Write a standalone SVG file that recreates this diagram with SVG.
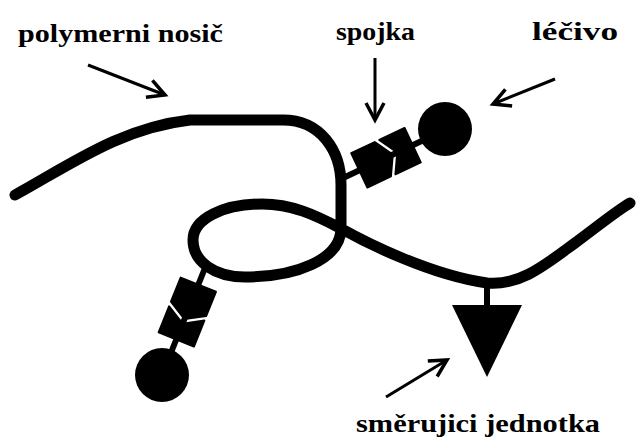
<svg xmlns="http://www.w3.org/2000/svg" width="636" height="441" viewBox="0 0 636 441">
  <style>
    .lbl { font-family: "Liberation Serif", "DejaVu Serif", serif; font-weight: bold; font-size: 26px; fill: #000; }
    .chain { fill: none; stroke: #000; stroke-width: 11; stroke-linecap: round; stroke-linejoin: round; }
    .arrow { fill: none; stroke: #000; stroke-width: 3; marker-end: url(#ah); }
    .stem { stroke: #000; stroke-width: 6; }
    .piece { fill: #000; stroke: #000; stroke-width: 2; stroke-linejoin: round; }
  </style>
  <defs>
    <marker id="ah" markerUnits="userSpaceOnUse" viewBox="-22 -14 26 28" markerWidth="26" markerHeight="28" refX="0" refY="0" orient="auto">
      <path d="M-17,-9 L0,0 L-17,9" fill="none" stroke="#000" stroke-width="3.5" stroke-linejoin="miter"/>
    </marker>
    <g id="linker">
      <polygon class="piece" points="18,-19 44,-19 55,0 44,19 18,19"/>
      <polygon class="piece" points="49,-19 77,-19 77,19 49,19 60,0"/>
    </g>
  </defs>
  <rect width="636" height="441" fill="#fff"/>

  <g id="connectors">
    <line class="arrow" x1="88" y1="65" x2="165" y2="95"/>
    <line class="arrow" x1="375" y1="58" x2="375" y2="120"/>
    <line class="arrow" x1="555" y1="79" x2="493" y2="104"/>
    <line class="arrow" x1="386" y1="397" x2="447" y2="360"/>
    <line class="stem" x1="343" y1="178" x2="445" y2="130"/>
    <line class="stem" x1="205" y1="268" x2="162" y2="375"/>
    <line class="stem" x1="487" y1="283" x2="487" y2="307"/>
  </g>

  <g id="nosic">
    <path class="chain" d="M15,195 C70,165 120,128 190,120 L283,120 C320,120 341,150 341,185 L341,228 C341,260 295,277 245,277 C215,277 193,262 193,240 C193,218 225,204 262,204 C292,204 315,215 340,228 C365,242 430,275 487,283 C520,286 545,265 575,243 C598,226 615,212 630,203"/>
  </g>

  <g id="spojka-1">
    <use href="#linker" transform="translate(343,178) rotate(-25.2)"/>
  </g>
  <g id="lecivo-1">
    <circle cx="445" cy="129" r="27" fill="#000"/>
  </g>

  <g id="spojka-2">
    <use href="#linker" transform="translate(205,268) rotate(111.9)"/>
  </g>
  <g id="lecivo-2">
    <circle cx="162" cy="375" r="27" fill="#000"/>
  </g>

  <g id="smerujici-jednotka">
    <polygon points="452,305 522,305 487,377" fill="#000"/>
  </g>

  <g id="labels">
    <text class="lbl" x="18" y="42" textLength="205" lengthAdjust="spacingAndGlyphs">polymerni nosič</text>
    <text class="lbl" x="336" y="40" textLength="79" lengthAdjust="spacingAndGlyphs">spojka</text>
    <text class="lbl" x="532" y="40" textLength="86" lengthAdjust="spacingAndGlyphs">léčivo</text>
    <text class="lbl" x="356" y="432" textLength="244" lengthAdjust="spacingAndGlyphs">směrujici jednotka</text>
  </g>
</svg>
